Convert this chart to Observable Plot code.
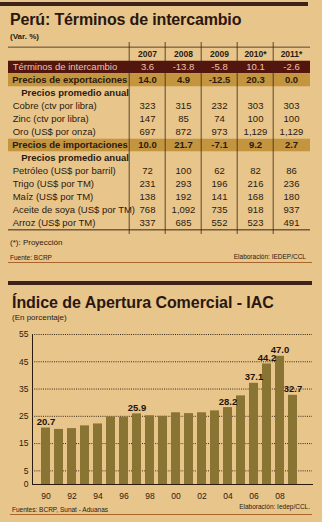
<!DOCTYPE html>
<html><head><meta charset="utf-8">
<script src="https://cdn.jsdelivr.net/npm/d3@7"></script>
<script src="https://cdn.jsdelivr.net/npm/@observablehq/plot@0.6"></script>
<style>
html,body{margin:0;padding:0;background:#e8c58b;}
#page{position:relative;width:322px;height:522px;overflow:hidden;background:#e8c58b;font-family:"Liberation Sans",Arial,sans-serif;color:#2a1a10;}
.abs{position:absolute;white-space:nowrap;}
.bar{position:absolute;background:#3d2219;}
svg{overflow:visible;}
</style></head>
<body><div id="page">
<div class="bar" style="left:0;top:2px;width:308px;height:4px"></div>
<div class="abs" style="left:10px;top:12px;font-size:16px;line-height:16px;font-weight:bold;letter-spacing:-0.15px;color:#2a1710">Perú: Términos de intercambio</div>
<div class="abs" style="left:10px;top:33px;font-size:8px;line-height:8px;font-weight:bold">(Var. %)</div>
<div id="table" class="abs" style="left:0;top:42px"></div>
<div class="abs" style="left:10px;top:239px;font-size:8px;line-height:8px">(*): Proyección</div>
<div class="abs" style="left:10px;top:254px;font-size:6.5px;line-height:7px">Fuente: BCRP</div>
<div class="abs" style="right:16px;top:253px;font-size:6.5px;line-height:7px">Elaboración: IEDEP/CCL</div>
<div style="position:absolute;left:8px;top:262px;width:304px;height:1px;background:#a8652c"></div>
<div class="bar" style="left:8px;top:281px;width:304px;height:4px"></div>
<div class="abs" style="left:12px;top:295px;font-size:16px;line-height:16px;font-weight:bold;letter-spacing:-0.05px;color:#2a1710">Índice de Apertura Comercial - IAC</div>
<div class="abs" style="left:12px;top:314px;font-size:8px;line-height:8px">(En porcentaje)</div>
<div id="chart" class="abs" style="left:0;top:326px"></div>
<div class="abs" style="left:12px;top:506px;font-size:6.5px;line-height:7px">Fuentes: BCRP, Sunat - Aduanas</div>
<div class="abs" style="right:12px;top:503px;font-size:6.5px;line-height:7px">Elaboración: Iedep/CCL.</div>
<div style="position:absolute;left:10px;top:514px;width:302px;height:1px;background:#a8652c"></div>
</div>
<script>
// ---- Table data ----
const years = ["2007", "2008", "2009", "2010*", "2011*"];
const terminos = [3.6, -13.8, -5.8, 10.1, -2.6];
const exportaciones = [14.0, 4.9, -12.5, 20.3, 0.0];
const cobre = [323, 315, 232, 303, 303];
const zinc = [147, 85, 74, 100, 100];
const oro = [697, 872, 973, 1129, 1129];
const importaciones = [10.0, 21.7, -7.1, 9.2, 2.7];
const petroleo = [72, 100, 62, 82, 86];
const trigo = [231, 293, 196, 216, 236];
const maiz = [138, 192, 141, 168, 180];
const aceite = [768, 1092, 735, 918, 937];
const arroz = [337, 685, 552, 523, 491];

// ---- Chart data ----
const iacYears = d3.range(1990, 2010);
const iacValues = [20.7, 20.2, 20.5, 21.5, 22.2, 24.8, 24.7, 25.9, 25.2, 25.0,
                   26.3, 26.0, 26.3, 27.0, 28.2, 32.5, 37.1, 44.2, 47.0, 32.7];
const labeledYears = [1990, 1997, 2004, 2006, 2007, 2008, 2009];
const yTicks = [0, 5, 15, 25, 35, 45, 55];
const xTickYears = [1990, 1992, 1994, 1996, 1998, 2000, 2002, 2004, 2006, 2008];

const pct = v => v.toFixed(1);
const num = v => v.toLocaleString("en-US");
const rows = [
  {label: "Términos de intercambio", kind: "dark", values: terminos, fmt: pct},
  {label: "Precios de exportaciones", kind: "gold", values: exportaciones, fmt: pct},
  {label: "Precios promedio anual", kind: "sub", values: null},
  {label: "Cobre (ctv por libra)", kind: "plain", values: cobre, fmt: num},
  {label: "Zinc (ctv por libra)", kind: "plain", values: zinc, fmt: num},
  {label: "Oro (US$ por onza)", kind: "plain", values: oro, fmt: num},
  {label: "Precios de importaciones", kind: "gold", values: importaciones, fmt: pct},
  {label: "Precios promedio anual", kind: "sub", values: null},
  {label: "Petróleo (US$ por barril)", kind: "plain", values: petroleo, fmt: num},
  {label: "Trigo (US$ por TM)", kind: "plain", values: trigo, fmt: num},
  {label: "Maíz (US$ por TM)", kind: "plain", values: maiz, fmt: num},
  {label: "Aceite de soya (US$ por TM)", kind: "plain", values: aceite, fmt: num},
  {label: "Arroz (US$ por TM)", kind: "plain", values: arroz, fmt: num}
].map((r, j) => ({...r, i: j + 1}));

const cells = rows.filter(r => r.values).flatMap(r =>
  r.values.map((v, k) => ({i: r.i, col: years[k], text: r.fmt(v), kind: r.kind})));
const header = years.map(y => ({i: 0, col: y}));

const DARK = "#52160f", GOLD = "#c4953f", INK = "#2a1a10", PINK = "#f2c0a6";
const font = '"Liberation Sans", Arial, sans-serif';
const tableH = 192, nRows = 14, step = tableH / nRows;
const colW = 183 / 5;
const firstCenter = 127 + colW / 2;
const kindIs = k => d => d.kind === k;

const labelMark = (kind, opts) => Plot.text(rows.filter(kindIs(kind)), {
  x: () => years[0], y: "i", text: "label", textAnchor: "start", fontSize: 9.5, ...opts});
const cellMark = (kind, opts) => Plot.text(cells.filter(kindIs(kind)), {
  x: "col", y: "i", text: "text", fontSize: 9.5, ...opts});

const table = Plot.plot({
  width: 322, height: tableH,
  marginTop: 0, marginBottom: 0, marginLeft: 8, marginRight: 12,
  x: {type: "band", domain: years, range: [127, 310], paddingInner: 0, paddingOuter: 0, axis: null},
  y: {type: "band", domain: d3.range(nRows), range: [0, tableH], paddingInner: 0, paddingOuter: 0, axis: null},
  style: {background: "transparent", fontFamily: font, overflow: "visible"},
  marks: [
    Plot.ruleY(rows.filter(kindIs("dark")), {y: "i", stroke: DARK, strokeWidth: step - 1}),
    Plot.ruleY(rows.filter(kindIs("gold")), {y: "i", stroke: GOLD, strokeWidth: step - 1}),
    Plot.ruleX(years, {x: d => d, dx: -colW / 2, stroke: "#3a2418", strokeWidth: 0.8}),
    Plot.ruleY([0], {y: d => d, dy: -step / 2, stroke: "#3a2418", strokeWidth: 0.8}),
    Plot.ruleY([nRows - 1], {y: d => d, dy: step / 2, stroke: "#3a2418", strokeWidth: 1}),
    Plot.text(header, {x: "col", y: "i", text: "col", fontSize: 8.5, fontWeight: "bold", fill: INK}),
    labelMark("dark", {dx: -(firstCenter - 10.5), fill: PINK, letterSpacing: -0.1}),
    labelMark("gold", {dx: -(firstCenter - 10), fill: INK, fontWeight: "bold", letterSpacing: -0.5}),
    labelMark("sub", {dx: -(firstCenter - 19), fill: INK, fontWeight: "bold", letterSpacing: -0.3}),
    labelMark("plain", {dx: -(firstCenter - 10.5), fill: INK, letterSpacing: -0.3}),
    cellMark("dark", {fill: PINK}),
    cellMark("gold", {fill: INK, fontWeight: "bold"}),
    cellMark("plain", {fill: INK})
  ]
});
document.getElementById("table").appendChild(table);

const byYear = new Map(iacYears.map((y, k) => [y, iacValues[k]]));
const iac = iacYears.map(y => ({year: y, value: byYear.get(y)}));
const labels = labeledYears.map(y => ({year: y, value: byYear.get(y), text: pct(byYear.get(y))}));

const chart = Plot.plot({
  width: 322, height: 180,
  marginTop: 8, marginBottom: 22, marginLeft: 32, marginRight: 10,
  x: {type: "band", domain: iacYears, range: [33, 305], paddingInner: 0.32, paddingOuter: 0,
      ticks: xTickYears, tickFormat: d => String(d).slice(2), tickSize: 0, tickPadding: 8, line: true, label: null},
  y: {domain: [0, 55], ticks: yTicks, tickSize: 0, tickPadding: 4, line: true, label: null},
  style: {background: "transparent", fontFamily: font, fontSize: "8.5px", color: INK, overflow: "visible"},
  marks: [
    Plot.ruleY(yTicks.filter(d => d > 0), {stroke: "#3a2a1a", strokeWidth: 1, strokeDasharray: "1,1.2"}),
    Plot.barY(iac, {x: "year", y: "value", fill: "#8a7434"}),
    Plot.text(labels, {x: "year", y: "value", text: "text", dy: -6, fontSize: 9.5, fontWeight: "bold", fill: "#1e130c"})
  ]
});
document.getElementById("chart").appendChild(chart);
</script>
</body></html>
